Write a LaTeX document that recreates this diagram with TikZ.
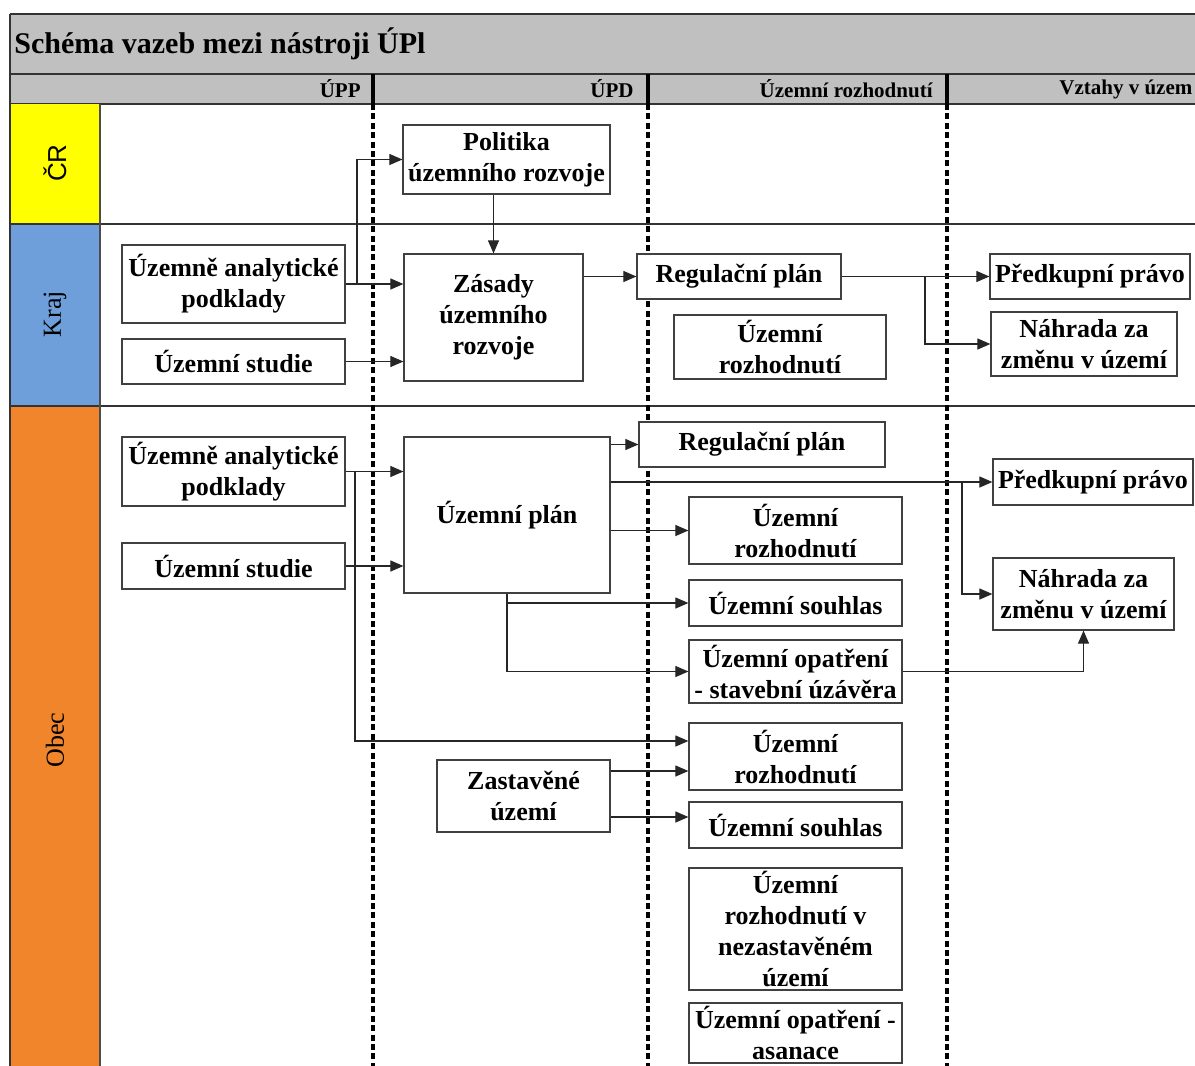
\documentclass[tikz,border=0pt]{standalone}
\usepackage{fontspec}
\setmainfont{Liberation Serif}
\newfontfamily\arialfont{Liberation Sans}
\usepackage{tikz}
\usetikzlibrary{arrows.meta,calc}

\definecolor{hdrGray}{HTML}{C0C0C0}
\definecolor{crYellow}{HTML}{FFFF00}
\definecolor{krajBlue}{HTML}{6F9FDB}
\definecolor{obecOrange}{HTML}{F0852C}

\tikzset{
  box/.style={draw=black!75, line width=0.6pt, fill=white, align=center, inner sep=0pt,
    font=\bfseries\fontsize{13}{15.5}\selectfont},
  boxsize/.style 2 args={minimum width=#1*0.5pt, minimum height=#2*0.5pt},
  arr/.style={draw=black!85, line width=0.55pt, -{Triangle[length=6.5pt,width=5.5pt]}},
  hdr/.style={font=\bfseries\fontsize{10.5}{12}\selectfont, inner sep=0pt},
  lane/.style={rotate=90, inner sep=0pt, font=\fontsize{13}{15}\selectfont},
  divdash/.style={line width=2pt, dash pattern=on 3pt off 1.7pt}
}

\begin{document}
\begin{tikzpicture}[x=0.5pt, y=-0.5pt]
\useasboundingbox (0,0) rectangle (1195,1066);

\def\xl{10}    % left border
\def\xc{100}   % end of lane label column
\def\xr{1195}  % right border
\def\yb{1066}  % bottom

% title bar and header row
\fill[hdrGray] (\xl,14) rectangle (\xr,104);
\draw[line width=0.8pt, black!80] (\xl,14) -- (\xr,14);
\draw[line width=0.8pt, black!80] (\xl,74) -- (\xr,74);
\draw[line width=0.8pt, black!80] (\xl,104) -- (\xr,104);
\node[anchor=west, inner sep=0pt, font=\bfseries\fontsize{15}{18}\selectfont] (title) at (14,44) {Schéma vazeb mezi nástroji ÚPl};

% lanes
\fill[crYellow] (\xl,104) rectangle (\xc,224);
\fill[krajBlue] (\xl,224) rectangle (\xc,406);
\fill[obecOrange] (\xl,406) rectangle (\xc,\yb);
\draw[line width=0.8pt, black!80] (\xl,224) -- (\xr,224);
\draw[line width=0.8pt, black!80] (\xl,406) -- (\xr,406);
\draw[line width=0.8pt, black!80] (\xl,14) -- (\xl,\yb);
\draw[line width=0.6pt, black!70] (\xc,104) -- (\xc,\yb);
\node[lane] (cr) at (55,163) {\arialfont ČR};
\node[lane] (kraj) at (55,314) {Kraj};
\node[lane] (obec) at (55,740) {Obec};

% column headers and dividers
\node[hdr, anchor=east] (hupp) at (361,89) {ÚPP};
\node[hdr, anchor=east] (hupd) at (634,89) {ÚPD};
\node[hdr, anchor=east] (hur) at (933,89) {Územní rozhodnutí};
\node[hdr, anchor=west] (hvz) at (1059,89) {Vztahy v územ};
\foreach \x in {373,648,947}{
  \draw[line width=2pt] (\x,74) -- (\x,104);
  \draw[divdash] (\x,104) -- (\x,\yb);
}

% CR + kraj
\node[box, boxsize={207}{69}] (pur) at (506.5,159.5) {Politika\\územního rozvoje};
\node[box, boxsize={223}{78}] (uapk) at (233.5,284) {Územně analytické\\podklady};
\node[box, boxsize={223}{45}] (usk) at (233.5,361.5) {Územní studie};
\node[box, boxsize={179}{127}] (zur) at (493.5,317.5) {Zásady\\územního\\rozvoje};
\node[box, boxsize={204}{45}] (rpk) at (739,276.5) {Regulační plán};
\node[box, boxsize={212}{64}] (urk) at (780,347) {Územní\\rozhodnutí};
\node[box, boxsize={200}{45}] (ppk) at (1090,276.5) {Předkupní právo};
\node[box, boxsize={186}{64}] (nzk) at (1084,344) {Náhrada za\\změnu v území};

% obec
\node[box, boxsize={223}{69}] (uapo) at (233.5,471.5) {Územně analytické\\podklady};
\node[box, boxsize={223}{46}] (uso) at (233.5,566) {Územní studie};
\node[box, boxsize={206}{156}] (up) at (507,515) {Územní plán};
\node[box, boxsize={246}{45}] (rpo) at (762,444.5) {Regulační plán};
\node[box, boxsize={200}{46}] (ppo) at (1093,482) {Předkupní právo};
\node[box, boxsize={213}{67}] (uro1) at (795.5,530.5) {Územní\\rozhodnutí};
\node[box, boxsize={213}{46}] (usou1) at (795.5,603) {Územní souhlas};
\node[box, boxsize={181}{72}] (nzo) at (1083.5,594) {Náhrada za\\změnu v území};
\node[box, boxsize={213}{63}] (uop) at (795.5,671.5) {Územní opatření\\- stavební úzávěra};
\node[box, boxsize={213}{67}] (uro2) at (795.5,756.5) {Územní\\rozhodnutí};
\node[box, boxsize={173}{72}] (zu) at (523.5,796) {Zastavěné\\území};
\node[box, boxsize={213}{46}] (usou2) at (795.5,825) {Územní souhlas};
\node[box, boxsize={213}{122}] (urn) at (795.5,929) {Územní\\rozhodnutí v\\nezastavěném\\území};
\node[box, boxsize={213}{60}] (uoa) at (795.5,1033) {Územní opatření -\\asanace};

% branch points
\coordinate (bk) at (357,284);
\coordinate (bk2) at (925,276.5);
\coordinate (bo) at (355,471.5);
\coordinate (bo2) at (962,482);
\coordinate (zu1) at ([yshift=12.5pt]zu.east);
\coordinate (zu2) at ([yshift=-10.5pt]zu.east);

% connectors kraj
\draw[arr] (uapk.east) -- (zur.west |- uapk.east);
\draw[arr] (bk) |- (pur.west);
\draw[arr] (usk.east) -- (zur.west |- usk.east);
\draw[arr] (zur.north |- pur.south) -- (zur.north);
\draw[arr] (zur.east |- rpk.west) -- (rpk.west);
\draw[arr] (rpk.east) -- (ppk.west);
\draw[arr] (bk2) |- (nzk.west);

% connectors obec
\draw[arr] (uapo.east) -- (up.west |- uapo.east);
\draw[arr] (bo) |- ([yshift=7.75pt]uro2.west);
\draw[arr] (uso.east) -- (up.west |- uso.east);
\draw[arr] (up.east |- rpo.west) -- (rpo.west);
\draw[arr] (up.east |- ppo.west) -- (ppo.west);
\draw[arr] (bo2) |- (nzo.west);
\draw[arr] (up.east |- uro1.west) -- (uro1.west);
\draw[arr] (up.south) |- (usou1.west);
\draw[arr] (up.south) |- (uop.west);
\draw[arr] (uop.east) -| (nzo.south);
\draw[arr] (zu1) -- (zu1 -| uro2.west);
\draw[arr] (zu2) -- (zu2 -| usou2.west);
\end{tikzpicture}
\end{document}
